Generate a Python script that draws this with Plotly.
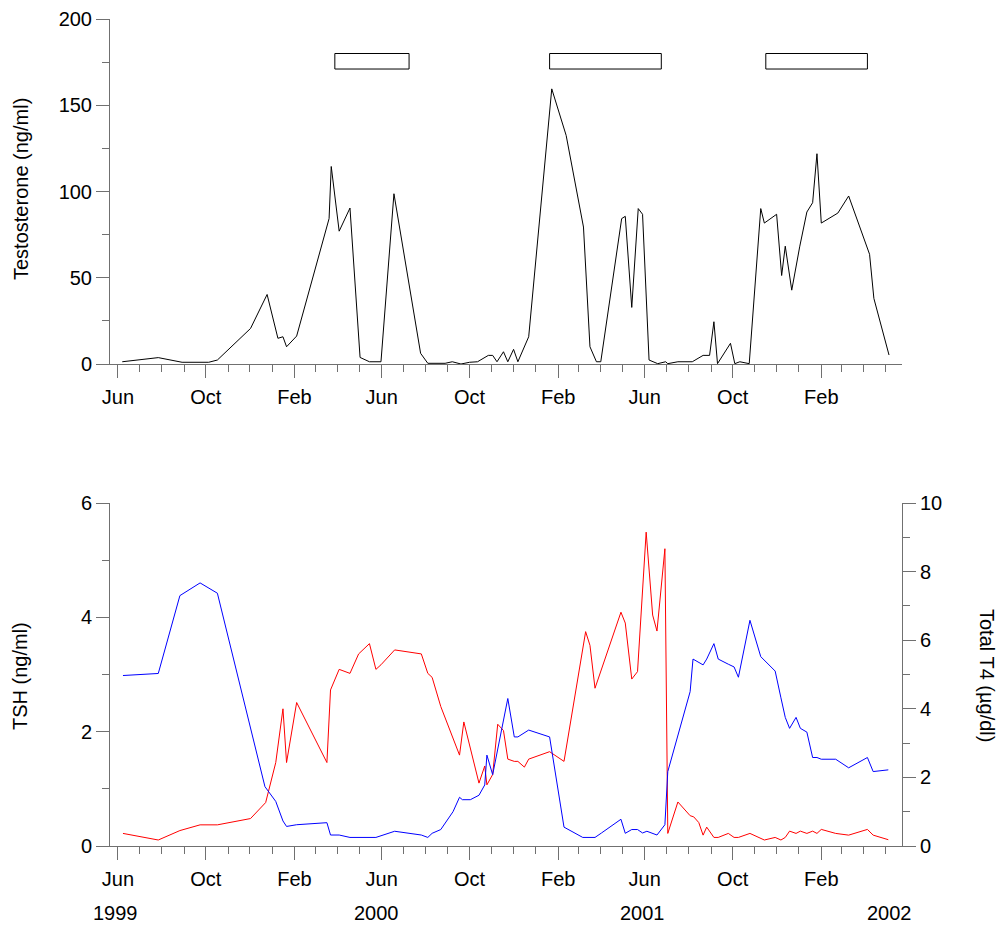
import plotly.graph_objects as go

# ---------------- data ----------------
testo_dates = ["1999-06-07","1999-07-27","1999-08-29","1999-10-05","1999-10-17","1999-12-02","1999-12-25",
    "2000-01-09","2000-01-16","2000-01-21","2000-02-04","2000-03-20","2000-03-23","2000-04-03","2000-04-18",
    "2000-05-02","2000-05-15","2000-05-31","2000-06-18","2000-07-25","2000-08-04","2000-08-28","2000-09-07",
    "2000-09-19","2000-10-01","2000-10-12","2000-10-27","2000-11-02","2000-11-08","2000-11-17","2000-11-23",
    "2000-12-01","2000-12-07","2000-12-22","2001-01-23","2001-02-12","2001-03-08","2001-03-17","2001-03-26",
    "2001-04-01","2001-04-30","2001-05-05","2001-05-14","2001-05-23","2001-05-29","2001-06-07","2001-06-19",
    "2001-06-30","2001-07-03","2001-07-17","2001-08-06","2001-08-21","2001-08-30","2001-09-05","2001-09-10",
    "2001-09-28","2001-10-04","2001-10-11","2001-10-24","2001-11-09","2001-11-14","2001-12-01","2001-12-08",
    "2001-12-13","2001-12-22","2002-01-02","2002-01-12","2002-01-20","2002-01-26","2002-02-01","2002-02-24",
    "2002-03-11","2002-04-09","2002-04-15","2002-05-06"]
testo_values = [1.3,3.7,1.0,1.0,2.3,20.6,40.3,
    14.9,15.8,10.0,16.2,84.3,114.5,77,90.4,
    3.8,1.3,1.3,98.7,6.2,0.4,0.4,1.3,
    0,1,1.3,5,5,1.3,7.1,1.3,
    8.5,1.3,15.8,159.5,132.5,79.4,10,1.3,
    1.3,84.3,85.6,32.8,90.1,86.8,2.3,0.2,
    1.3,0.2,1.3,1.3,5,5,24.5,0.2,
    12,0.2,1.3,0.2,90.1,81.7,86.8,51.3,
    68.3,42.8,67.9,88.1,93.5,121.9,81.7,87.5,
    97.4,63.6,38,5.2]

# horizontal bars (periods) drawn in the testosterone panel
period_start = ["2000-03-28", "2001-01-20", "2001-11-16"]
period_end = ["2000-07-09", "2001-06-24", "2002-04-06"]
period_low = 171
period_high = 180

tsh_dates = ["1999-06-08","1999-07-27","1999-08-26","1999-09-23","1999-10-17","1999-12-02","1999-12-23",
    "2000-01-06","2000-01-16","2000-01-21","2000-02-04","2000-03-17","2000-03-22","2000-04-03","2000-04-18",
    "2000-04-30","2000-05-15","2000-05-24","2000-05-31","2000-06-19","2000-07-26","2000-08-04","2000-08-10",
    "2000-08-22","2000-09-17","2000-09-23","2000-10-14","2000-10-22","2000-10-25","2000-11-02","2000-11-09",
    "2000-11-17","2000-11-23","2000-12-02","2000-12-07","2000-12-16","2000-12-22","2001-01-20","2001-02-09",
    "2001-03-11","2001-03-17","2001-03-24","2001-04-29","2001-05-05","2001-05-14","2001-05-22","2001-06-03",
    "2001-06-12","2001-06-18","2001-06-29","2001-07-03","2001-07-17","2001-08-03","2001-08-08","2001-08-15",
    "2001-08-21","2001-08-26","2001-09-05","2001-09-11","2001-09-25","2001-10-03","2001-10-09","2001-10-25",
    "2001-11-14","2001-11-29","2001-12-07","2001-12-13","2001-12-19","2001-12-28","2002-01-03","2002-01-12",
    "2002-01-20","2002-01-26","2002-02-01","2002-02-21","2002-03-11","2002-04-06","2002-04-14","2002-05-05"]
tsh_values = [0.22,0.105,0.27,0.37,0.37,0.48,0.76,
    1.46,2.40,1.46,2.51,1.46,2.73,3.09,3.02,
    3.36,3.54,3.09,3.17,3.43,3.36,3.02,2.95,
    2.44,1.59,2.17,1.10,1.40,1.07,1.25,2.13,
    2.02,1.52,1.48,1.48,1.38,1.52,1.65,1.48,
    3.75,3.51,2.76,4.09,3.90,2.92,3.05,5.49,
    4.04,3.76,5.20,0.22,0.77,0.53,0.51,0.41,
    0.19,0.33,0.15,0.15,0.22,0.15,0.15,0.22,
    0.105,0.15,0.105,0.15,0.26,0.22,0.26,0.22,
    0.26,0.22,0.29,0.22,0.19,0.29,0.19,0.11]

t4_dates = ["1999-06-08","1999-07-27","1999-08-26","1999-09-23","1999-10-17","1999-12-22","2000-01-06",
    "2000-01-16","2000-01-21","2000-02-04","2000-03-17","2000-03-22","2000-04-03","2000-04-18","2000-05-24",
    "2000-06-19","2000-07-26","2000-08-04","2000-08-10","2000-08-22","2000-09-08","2000-09-17","2000-09-21",
    "2000-10-02","2000-10-14","2000-10-22","2000-10-25","2000-11-02","2000-11-23","2000-12-02","2000-12-07",
    "2000-12-22","2001-01-20","2001-02-09","2001-03-07","2001-03-24","2001-04-02","2001-04-29","2001-05-05",
    "2001-05-14","2001-05-22","2001-05-29","2001-06-04","2001-06-18","2001-06-29","2001-07-03","2001-08-03",
    "2001-08-07","2001-08-21","2001-08-26","2001-09-05","2001-09-11","2001-09-25","2001-10-03","2001-10-09",
    "2001-10-25","2001-11-09","2001-11-29","2001-12-07","2001-12-13","2001-12-19","2001-12-28","2002-01-03",
    "2002-01-12","2002-01-20","2002-01-26","2002-02-01","2002-02-21","2002-03-11","2002-04-06","2002-04-14",
    "2002-05-05"]
t4_values = [4.97,5.03,7.30,7.67,7.37,1.73,1.30,
    0.73,0.57,0.62,0.68,0.32,0.32,0.25,0.25,
    0.43,0.32,0.25,0.37,0.48,1.00,1.42,1.35,
    1.35,1.48,1.78,2.65,2.08,4.30,3.18,3.18,
    3.38,3.18,0.55,0.25,0.25,0.38,0.78,0.37,
    0.48,0.48,0.38,0.43,0.32,0.62,2.17,4.50,
    5.45,5.28,5.45,5.90,5.45,5.30,5.22,4.92,
    6.58,5.52,5.10,4.32,3.75,3.43,3.75,3.43,
    3.32,2.58,2.58,2.53,2.53,2.28,2.58,2.17,
    2.22]

year_labels = ["1999", "2000", "2001", "2002"]
year_label_dates = ["1999-05-29", "2000-05-25", "2001-05-29", "2002-05-06"]

# ---------------- figure ----------------
FONT = "Liberation Sans, Arial, sans-serif"
AX = "#707070"
x_range = ["1999-05-21", "2002-05-24"]

fig = go.Figure()
fig.add_trace(go.Scatter(x=testo_dates, y=testo_values, mode="lines",
                         line=dict(color="black", width=1), xaxis="x", yaxis="y", showlegend=False))
fig.add_trace(go.Scatter(x=tsh_dates, y=tsh_values, mode="lines",
                         line=dict(color="#ff0000", width=1), xaxis="x2", yaxis="y2", showlegend=False))
fig.add_trace(go.Scatter(x=t4_dates, y=t4_values, mode="lines",
                         line=dict(color="#0000ff", width=1), xaxis="x2", yaxis="y3", showlegend=False))

for s, e in zip(period_start, period_end):
    fig.add_shape(type="rect", xref="x", yref="y", x0=s, x1=e, y0=period_low, y1=period_high,
                  line=dict(color="black", width=1), fillcolor="rgba(0,0,0,0)")

xcommon = dict(type="date", range=x_range, showgrid=False, zeroline=False, showline=True,
               automargin=False, ticklabelstandoff=2,
               linecolor=AX, linewidth=1, ticks="outside", ticklen=13, tickcolor=AX, tickwidth=1,
               tick0="1999-06-01", dtick="M4", tickformat="%b",
               tickfont=dict(family=FONT, size=20, color="black"),
               minor=dict(dtick="M1", tick0="1999-06-01", ticks="outside", ticklen=7,
                          tickcolor=AX, tickwidth=1, showgrid=False))
ycommon = dict(showgrid=False, zeroline=False, showline=True, linecolor=AX, linewidth=1,
               automargin=False,
               ticks="outside", ticklen=13, tickcolor=AX, tickwidth=1,
               tickfont=dict(family=FONT, size=20, color="black"))

top_dom = [(846 - 364) / 827, 1.0]
bot_dom = [0.0, (846 - 503) / 827]

fig.update_layout(
    template="none",
    width=1000, height=927,
    margin=dict(l=110, r=98, t=19, b=81, autoexpand=False),
    paper_bgcolor="white", plot_bgcolor="white",
    font=dict(family=FONT, size=20, color="black"),
    xaxis=dict(**xcommon, anchor="y", domain=[0, 1]),
    xaxis2=dict(**xcommon, anchor="y2", domain=[0, 1]),
    yaxis=dict(**ycommon, range=[0, 200], dtick=50, domain=top_dom, anchor="x",
               minor=dict(dtick=25, ticks="outside", ticklen=7, tickcolor=AX, showgrid=False)),
    yaxis2=dict(**ycommon, range=[0, 6], dtick=2, domain=bot_dom, anchor="x2",
                minor=dict(dtick=1, ticks="outside", ticklen=7, tickcolor=AX, showgrid=False)),
    yaxis3=dict(**ycommon, range=[0, 10], dtick=2, overlaying="y2", side="right", anchor="x2",
                minor=dict(dtick=1, ticks="outside", ticklen=7, tickcolor=AX, showgrid=False)),
)

ann = []
ann.append(dict(text="Testosterone (ng/ml)", xref="paper", yref="paper", x=(21 - 110) / 792,
                y=(846 - 189) / 827, textangle=-90, showarrow=False, xanchor="center", yanchor="middle",
                font=dict(family=FONT, size=20, color="black")))
ann.append(dict(text="TSH (ng/ml)", xref="paper", yref="paper", x=(20 - 110) / 792,
                y=(846 - 676) / 827, textangle=-90, showarrow=False, xanchor="center", yanchor="middle",
                font=dict(family=FONT, size=20, color="black")))
ann.append(dict(text="Total T4 (µg/dl)", xref="paper", yref="paper", x=(987 - 110) / 792,
                y=(846 - 675) / 827, textangle=90, showarrow=False, xanchor="center", yanchor="middle",
                font=dict(family=FONT, size=20, color="black")))
for lab, d in zip(year_labels, year_label_dates):
    ann.append(dict(text=lab, xref="x2", yref="paper", x=d, y=(846 - 913) / 827, showarrow=False,
                    xanchor="center", yanchor="middle", font=dict(family=FONT, size=20, color="black")))
fig.update_layout(annotations=ann)

fig.write_html("out.html")
